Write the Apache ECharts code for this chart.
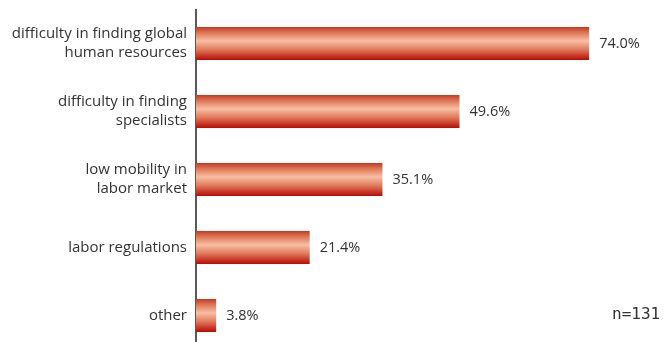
<!DOCTYPE html>
<html><head><meta charset="utf-8">
<script src="https://cdn.jsdelivr.net/npm/echarts@6/dist/echarts.min.js"></script>
<style>html,body{margin:0;padding:0;background:#fff}#c{width:666px;height:342px}</style>
</head><body><div id="c"></div>
<script>
const categories = ["difficulty in finding global\nhuman resources","difficulty in finding\nspecialists","low mobility in\nlabor market","labor regulations","other"];
const values = [74.0, 49.6, 35.1, 21.4, 3.8];
const noteText = "n=131";

const chart = echarts.init(document.getElementById('c'));
const grad = new echarts.graphic.LinearGradient(0,0,0,1,[
  {offset:0,color:'#c43a22'},
  {offset:0.18,color:'#df7858'},
  {offset:0.42,color:'#f8bfa3'},
  {offset:0.7,color:'#de7556'},
  {offset:1,color:'#b80a04'}
]);
chart.setOption({
  animation:false,
  grid:{left:196,top:9.5,width:425,height:340,outerBoundsMode:'none',containLabel:false},
  xAxis:{type:'value',min:0,max:80,show:false},
  yAxis:{type:'category',data:categories,inverse:true,
    axisLine:{show:true,lineStyle:{color:'#222',width:1.5}},
    axisTick:{show:false},
    axisLabel:{color:'#333',fontSize:15,lineHeight:19,margin:9,fontFamily:'"Open Sans", "Noto Sans", sans-serif',align:'right'}
  },
  series:[{type:'bar',data:values,barWidth:33,
    itemStyle:{color:grad},
    label:{show:true,position:'right',distance:10,color:'#333',fontSize:14.5,fontFamily:'"Open Sans", "Noto Sans", sans-serif',formatter:p=>p.value.toFixed(1)+'%'}
  }],
  graphic:[{type:'text',left:612,top:307,style:{text:noteText,fontSize:16,fill:'#333',fontFamily:'"DejaVu Sans Mono", monospace'}}]
});
</script></body></html>
